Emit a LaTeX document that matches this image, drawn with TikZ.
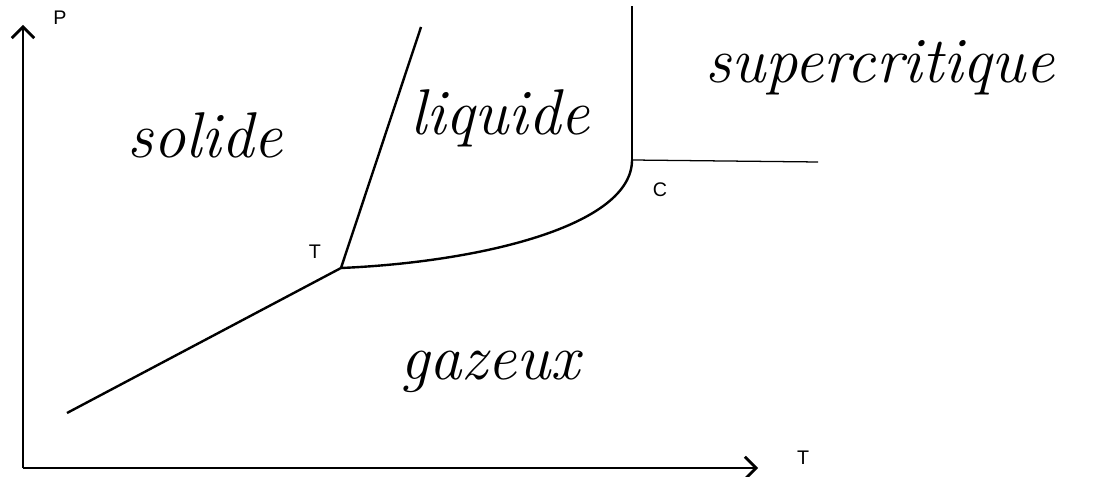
\documentclass[tikz,border=0pt]{standalone}
\usepackage{fontspec}
\setsansfont{Liberation Sans}
\usetikzlibrary{arrows.meta}

\begin{document}
\begin{tikzpicture}[x=0.025cm,y=-0.025cm]
  \useasboundingbox (0,0) rectangle (1096,477);
  \tikzset{
    axis/.style={line width=1.9pt,-{Straight Barb[length=8pt,width=16pt,line width=1.9pt]}},
    phase/.style={line width=1.7pt},
    thin/.style={line width=0.9pt},
    lbl/.style={font=\sffamily\fontsize{14}{14}\selectfont,inner sep=0pt},
    word/.style={font=\itshape\fontsize{46}{46}\selectfont,inner sep=0pt}
  }
  % axes
  \coordinate (origin) at (23,468);
  \coordinate (ptop) at (23,25);
  \coordinate (tright) at (758,468);
  \draw[axis] (origin) -- (ptop);
  \draw[axis] (origin) -- (tright);
  \node[lbl] (plabel) at (60,18) {P};
  \node[lbl] (tlabel) at (803,458) {T};
  % phase boundaries
  \coordinate (triple) at (341,268);
  \coordinate (crit) at (632,160);
  \coordinate (sublim) at (67,413);
  \coordinate (fusion) at (421,27);
  \coordinate (crittop) at (632,6);
  \coordinate (critright) at (818,162);
  \draw[phase] (sublim) -- (triple);
  \draw[phase] (triple) -- (fusion);
  \draw[phase] (triple) .. controls (480,262) and (632,226) .. (crit);
  \draw[thin] (crit) -- (crittop);
  \draw[thin] (crit) -- (critright);
  \node[lbl] (triplelabel) at (315,252) {T};
  \node[lbl] (critlabel) at (660,190) {C};
  % regions
  \node[word] (solide) at (205,135) {solide};
  \node[word] (liquide) at (500,118) {liquide};
  \node[word] (supercritique) at (880,68) {supercritique};
  \node[word] (gazeux) at (490,372) {gazeux};
\end{tikzpicture}
\end{document}
